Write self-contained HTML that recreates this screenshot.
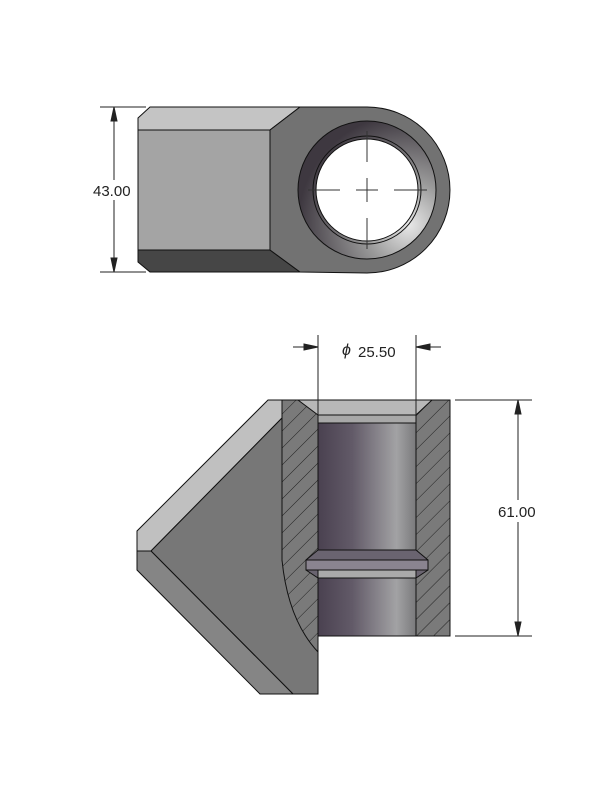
<!DOCTYPE html>
<html><head><style>body{margin:0;background:#fff}svg{display:block}text{font-family:"Liberation Sans",sans-serif;fill:#222}</style></head>
<body>
<svg width="600" height="800" viewBox="0 0 600 800" xmlns="http://www.w3.org/2000/svg">
<defs>
<radialGradient id="ring" cx="0.8" cy="0.75" r="0.8">
<stop offset="0" stop-color="#e8e8e8"/><stop offset="0.4" stop-color="#9a9a9a"/><stop offset="1" stop-color="#3e3840"/>
</radialGradient>
<linearGradient id="bore" x1="0" x2="1">
<stop offset="0" stop-color="#4a4150"/><stop offset="0.35" stop-color="#625a68"/><stop offset="0.8" stop-color="#a2a2a4"/><stop offset="1" stop-color="#7a7a7c"/>
</linearGradient>
<pattern id="hatch" width="12" height="12" patternUnits="userSpaceOnUse" patternTransform="rotate(-45)">
<rect width="12" height="12" fill="#7a7a7a"/><line x1="0" y1="0" x2="12" y2="0" stroke="#222" stroke-width="1"/>
</pattern>
</defs>
<g stroke="#111" stroke-width="1">
<!-- TOP VIEW -->
<polygon points="138,118 150,107 300,107 270,130 138,130" fill="#c4c4c4"/>
<rect x="138" y="130" width="132" height="120" fill="#a4a4a4"/>
<polygon points="138,250 270,250 300,272 150,272 138,262" fill="#464646"/>
<path d="M300,107 L367,107 A83,83 0 0 1 367,273 L300,272 L270,250 L270,130 Z" fill="#727272"/>
<circle cx="367" cy="190" r="69" fill="url(#ring)"/>
<circle cx="367" cy="190" r="54" fill="none"/>
<circle cx="367" cy="190" r="51" fill="#fff"/>
</g>
<g stroke="#333" stroke-width="1">
<line x1="308" y1="190" x2="340" y2="190"/><line x1="356" y1="190" x2="378" y2="190"/><line x1="394" y1="190" x2="427" y2="190"/>
<line x1="367" y1="131" x2="367" y2="162"/><line x1="367" y1="178" x2="367" y2="202"/><line x1="367" y1="218" x2="367" y2="249"/>
</g>
<!-- 43.00 dim -->
<g stroke="#222" stroke-width="1" fill="#222">
<line x1="100" y1="107" x2="146" y2="107"/><line x1="100" y1="272" x2="146" y2="272"/>
<line x1="114" y1="107" x2="114" y2="180"/><line x1="114" y1="200" x2="114" y2="272"/>
<polygon points="114,107 111,121 117,121"/><polygon points="114,272 111,258 117,258"/>
</g>
<text x="93" y="196" font-size="15">43.00</text>

<!-- BOTTOM VIEW -->
<g stroke="#111" stroke-width="1">
<polygon points="268,400 282,400 282,418 151,551 137,551 137,531" fill="#c0c0c0"/>
<polygon points="151,551 282,418 282,560 300,620 318,652 318,694 293,694" fill="#777"/>
<polygon points="137,551 151,551 293,694 260,694 137,570" fill="#858585"/>
<path d="M282,400 L450,400 L450,636 L318,636 L318,652 Q288,620 282,560 Z" fill="url(#hatch)"/>
<rect x="318" y="415" width="98" height="221" fill="url(#bore)"/>
<polygon points="298,400 432,400 416,415 318,415" fill="#b8b8b8"/>
<rect x="318" y="415" width="98" height="8" fill="#a8a8a8"/>
<polygon points="318,550 416,550 428,560 428,570 416,578 318,578 306,570 306,560" fill="#6a6470"/>
<rect x="306" y="560" width="122" height="10" fill="#8a8490"/>
<rect x="318" y="570" width="98" height="8" fill="#aaa"/>
</g>
<!-- dims -->
<g stroke="#222" stroke-width="1" fill="#222">
<line x1="318" y1="335" x2="318" y2="415"/><line x1="416" y1="335" x2="416" y2="415"/>
<line x1="293" y1="347" x2="318" y2="347"/><line x1="416" y1="347" x2="441" y2="347"/>
<polygon points="318,347 304,344 304,350"/><polygon points="416,347 430,344 430,350"/>
<line x1="455" y1="400" x2="532" y2="400"/><line x1="455" y1="636" x2="532" y2="636"/>
<line x1="518" y1="400" x2="518" y2="500"/><line x1="518" y1="522" x2="518" y2="636"/>
<polygon points="518,400 515,414 521,414"/><polygon points="518,636 515,622 521,622"/>
</g>
<text x="342" y="355" font-size="16" font-style="italic">ϕ</text>
<text x="358" y="357" font-size="15">25.50</text>
<text x="498" y="517" font-size="15">61.00</text>
</svg>
</body></html>
